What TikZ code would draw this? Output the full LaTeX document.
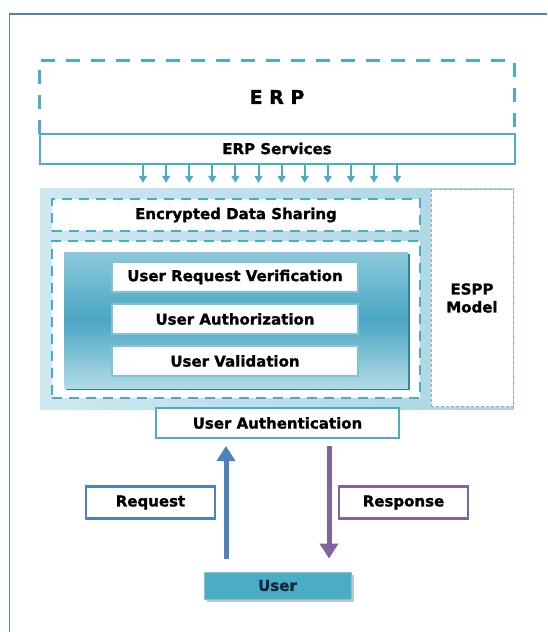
\documentclass[tikz,border=0pt]{standalone}
\usepackage{fontspec}
\setmainfont{DejaVu Sans}[BoldFeatures={FakeBold=1.2}]
\usetikzlibrary{arrows.meta,calc}
\definecolor{aqua}{HTML}{4BACC6}
\definecolor{framebl}{HTML}{4F81BD}
\definecolor{reqblue}{HTML}{4F81BD}
\definecolor{respur}{HTML}{8064A2}
\definecolor{paleblue}{HTML}{CDE8F0}
\definecolor{midblue}{HTML}{A9D5E3}
\definecolor{tealtop}{HTML}{8CC9DB}
\definecolor{tealmid}{HTML}{4AA6C4}
\definecolor{tealbot}{HTML}{B2DCE7}
\definecolor{tealedge}{HTML}{2E7E96}
\definecolor{navy}{HTML}{14253A}
\tikzset{
  lbl/.style={font=\bfseries\fontsize{15}{18}\selectfont},
  blk/.style={rectangle, inner sep=0pt, align=center, lbl},
  solidbox/.style={blk, draw=aqua, line width=2pt, fill=white},
  dashbox/.style={blk, draw=aqua, line width=2.5pt, dash pattern=on 10pt off 7pt, fill=white},
  itembox/.style={blk, draw=tealtop!80!aqua, line width=1.5pt, fill=white, minimum width=246pt, minimum height=30pt},
  smallarrow/.style={draw=aqua, line width=2pt, -{Triangle[width=8pt,length=7pt]}},
  bigarrow/.style={line width=5pt, -{Triangle[width=18pt,length=15pt]}},
}
\begin{document}
\begin{tikzpicture}[x=1pt,y=-1pt]
\useasboundingbox (0,0) rectangle (547,632);
\fill[white] (0,0) rectangle (547,632);

% outer frame (top and left edges)
\draw[framebl, line width=1.8pt] (9.5,632) -- (9.5,14) -- (547,14);

% ERP block
\node[blk, minimum width=474pt, minimum height=73pt] (erp) at (277,97)
  {\fontsize{19}{22}\selectfont E R P};
\draw[aqua, line width=3pt, dash pattern=on 14pt off 11pt]
  (erp.south west) -- (erp.north west) -- (erp.north east) -- (erp.south east);
\node[solidbox, minimum width=475pt, minimum height=30pt] (svc) at (277,148.5) {ERP Services};

% ESPP container
\node[blk, minimum width=474pt, minimum height=221pt, left color=paleblue, right color=midblue] (espp) at (277,298.5) {};
\node[blk, fill=white, draw=gray!70, line width=1pt, dash pattern=on 3pt off 2pt,
      minimum width=82pt, minimum height=217pt] (model) at (472,298) {ESPP\\Model};

% service arrows into the model
\foreach \i in {0,...,11}{
  \coordinate (a\i) at ($(svc.south west)+(104.5+23.1*\i,0)$);
  \draw[smallarrow, shorten >=5pt] (a\i) -- (a\i |- espp.north);
}

\node[dashbox, minimum width=368pt, minimum height=32pt] (enc) at (236,215) {Encrypted Data Sharing};
\node[dashbox, minimum width=368pt, minimum height=157pt] (core) at (236,319.5) {};

% shaded security core
\fill[tealedge] (66,254) rectangle (410,390);
\node[blk, minimum width=344pt, minimum height=136pt,
      top color=tealtop, bottom color=tealbot, middle color=tealmid] (tcore) at (236,320) {};
\node[itembox] (urv) at (235,277) {User Request Verification};
\node[itembox] (uaz) at (235,319) {User Authorization};
\node[itembox] (uva) at (235,361) {User Validation};

\node[solidbox, minimum width=243pt, minimum height=30pt] (auth) at (277.5,423) {User Authentication};

% user
\fill[gray!45] (206.5,574.5) rectangle (353.5,601.5);
\node[blk, fill=aqua, draw=aqua!70, line width=1pt, text=navy,
      minimum width=147pt, minimum height=27pt] (user) at (277.5,585.5) {User};

% request / response flow
\draw[bigarrow, reqblue, shorten <=13pt, shorten >=7pt] (user.north -| 226,0) -- (auth.south -| 226,0);
\draw[bigarrow, respur, shorten <=7pt, shorten >=13pt] (auth.south -| 329,0) -- (user.north -| 329,0);

\node[blk, fill=white, draw=reqblue, line width=2.5pt, minimum width=129pt, minimum height=32pt] (req) at (150.5,502.5) {Request};
\node[blk, fill=white, draw=respur, line width=2.5pt, minimum width=129pt, minimum height=32pt] (resp) at (403.5,502.5) {Response};
\end{tikzpicture}
\end{document}
